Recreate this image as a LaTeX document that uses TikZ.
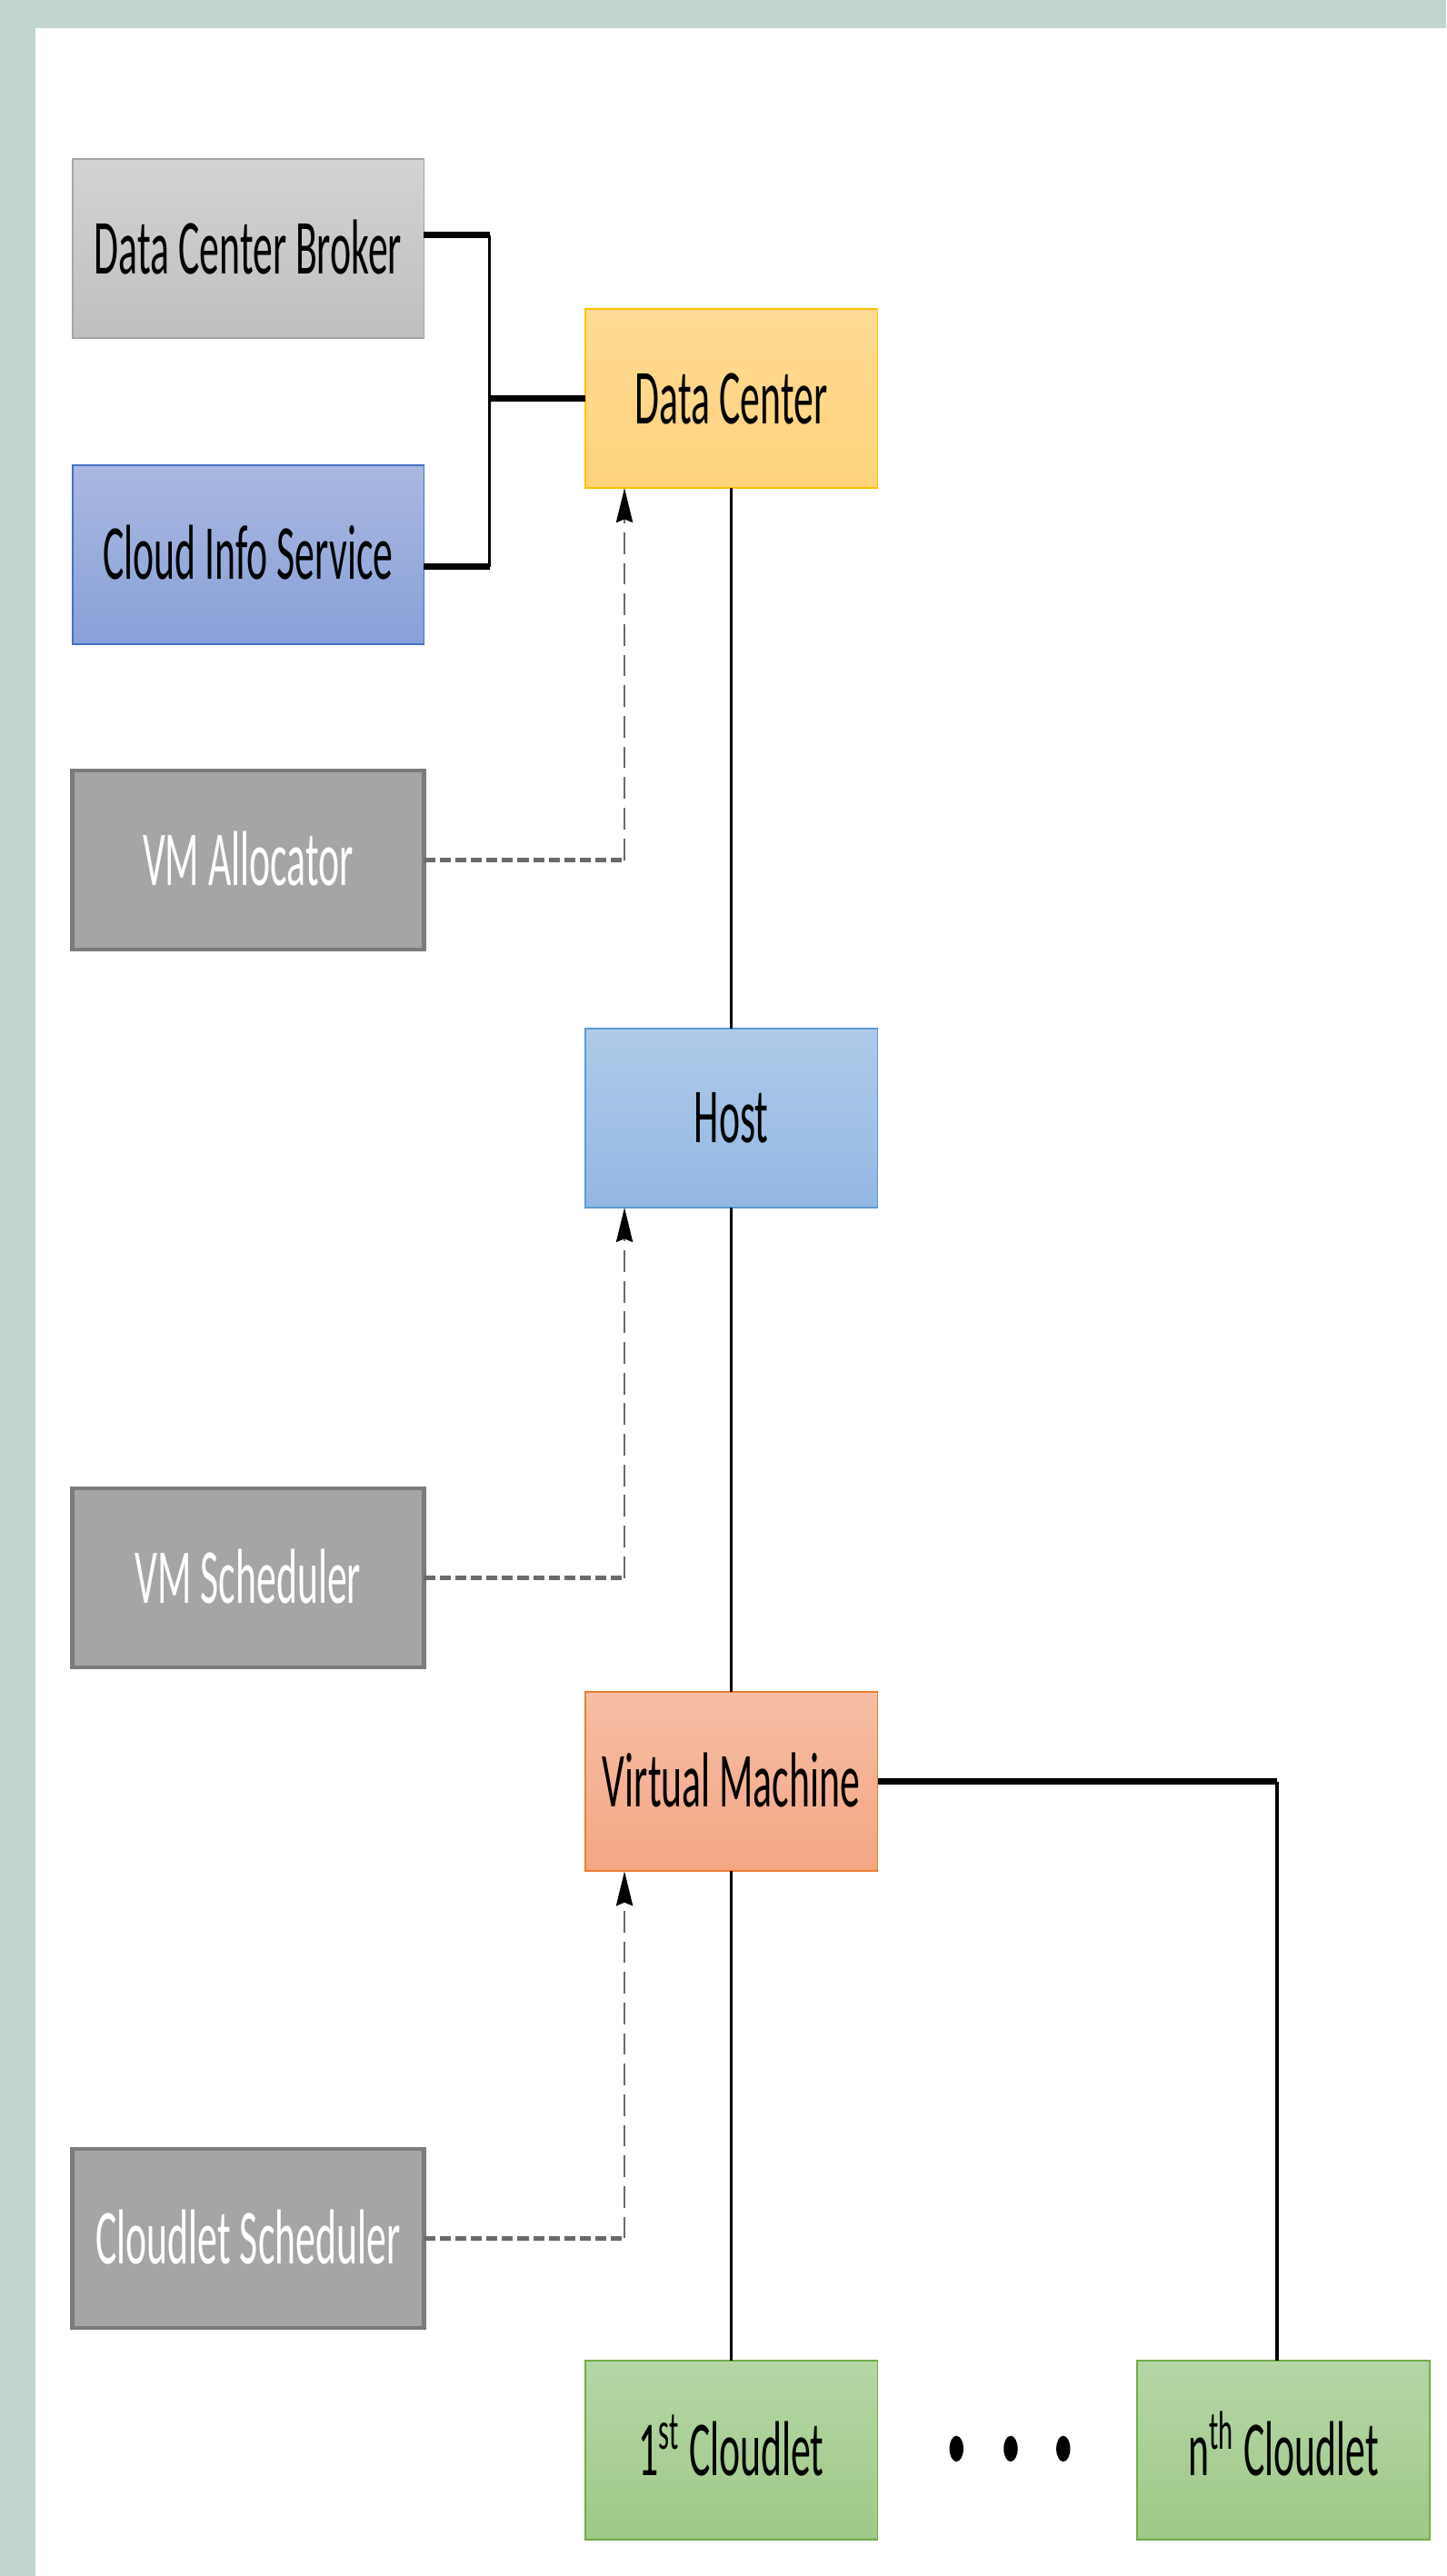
\documentclass[tikz,border=0pt]{standalone}
\usepackage{fontspec}
\setmainfont[FakeStretch=0.51]{Carlito}
\usepackage{tikz}
\usetikzlibrary{positioning, arrows.meta}

\definecolor{frameband}{HTML}{C0D6CF}
\definecolor{brokertop}{HTML}{D3D3D3}
\definecolor{brokerbot}{HTML}{BFBFBF}
\definecolor{brokerline}{HTML}{A6A6A6}
\definecolor{infotop}{HTML}{AAB8E1}
\definecolor{infobot}{HTML}{88A1D8}
\definecolor{infoline}{HTML}{4472C4}
\definecolor{toolfill}{HTML}{A5A5A5}
\definecolor{toolline}{HTML}{7B7B7B}
\definecolor{dctop}{HTML}{FFDA95}
\definecolor{dcbot}{HTML}{FFD47C}
\definecolor{dcline}{HTML}{FFC000}
\definecolor{hosttop}{HTML}{AFCAE9}
\definecolor{hostbot}{HTML}{93B7E3}
\definecolor{hostline}{HTML}{5B9BD5}
\definecolor{vmtop}{HTML}{F6BEA6}
\definecolor{vmbot}{HTML}{F4A682}
\definecolor{vmline}{HTML}{ED7D31}
\definecolor{cltop}{HTML}{B5D6A6}
\definecolor{clbot}{HTML}{9FC987}
\definecolor{clline}{HTML}{70AD47}
\definecolor{dashgrey}{HTML}{6A6A6A}

\begin{document}
\begin{tikzpicture}[
  box node/.style={rectangle, draw, minimum width=3.56cm, minimum height=2.18cm,
    inner sep=0pt, outer sep=0pt, line width=0.6pt, font=\fontsize{27}{32}\selectfont,
    text height=0.61cm, text depth=0pt},
  side node/.style={box node, minimum width=4.28cm},
  tool node/.style={side node, fill=toolfill, draw=toolline, line width=1.3pt, text=white},
  vline/.style={line width=1.05pt},
  hline/.style={line width=2.1pt},
  dash v/.style={dashgrey, line width=0.9pt, dash pattern=on 7.5pt off 3.1pt,
    -{Stealth[length=0.42cm, width=0.2cm, inset=0.04cm, black]}},
  dash h/.style={dashgrey, line width=1.7pt, dash pattern=on 3.8pt off 1.6pt}]

\useasboundingbox (0,0) rectangle (17.6,-31.36);
\fill[frameband] (0,0) rectangle (17.6,-0.34);
\fill[frameband] (0,0) rectangle (0.43,-31.36);

% left column
\node[side node, top color=brokertop, bottom color=brokerbot, draw=brokerline] (broker) at (3.02,-3.03) {Data Center Broker};
\node[side node, top color=infotop, bottom color=infobot, draw=infoline] (info) [below=1.54cm of broker] {Cloud Info Service};
\node[tool node] (alloc) [below=1.54cm of info] {VM Allocator};
\node[tool node] (vmsched) [below=6.56cm of alloc] {VM Scheduler};
\node[tool node] (clsched) [below=5.86cm of vmsched] {Cloudlet Scheduler};

% main chain
\node[box node, top color=dctop, bottom color=dcbot, draw=dcline] (dc) at (8.9,-4.85) {Data Center};
\node[box node, top color=hosttop, bottom color=hostbot, draw=hostline] (host) [below=6.58cm of dc] {Host};
\node[box node, top color=vmtop, bottom color=vmbot, draw=vmline] (vm) [below=5.9cm of host] {Virtual Machine};
\node[box node, top color=cltop, bottom color=clbot, draw=clline] (cl1) [below=5.96cm of vm] {1\textsuperscript{st} Cloudlet};
\node[box node, top color=cltop, bottom color=clbot, draw=clline] (cln) [right=3.16cm of cl1] {n\textsuperscript{th} Cloudlet};

\foreach \dx in {11.64,12.3,12.94}
  \fill (\dx,-29.81) ellipse (0.085 and 0.157);

% broker and info service
\coordinate[left=1.16cm of dc.west] (jn);
\coordinate (bk) at ([yshift=0.17cm]broker.east -| jn);
\coordinate (ci) at ([yshift=-0.15cm]info.east -| jn);
\draw[hline] ([yshift=0.17cm]broker.east) -- (bk);
\draw[hline] ([yshift=-0.15cm]info.east) -- (ci);
\draw[vline] (bk) -- (ci);
\draw[hline] (jn) -- (dc.west);

\path[vline]
(dc) edge (host)
(host) edge (vm)
(vm) edge (cl1)
;

\coordinate (vc) at ([xshift=-0.08cm]vm.east -| cln);
\draw[hline] (vm.east) -- (vc);
\draw[vline] (vc) -- (vc |- cln.north);

% schedulers
\foreach \src/\dst in {alloc/dc, vmsched/host, clsched/vm}{
  \coordinate (\dst-in) at ([xshift=0.48cm]\dst.south west);
  \coordinate (\src-c) at (\src.east -| \dst-in);
  \draw[dash h] (\src.east) -- (\src-c);
  \draw[dash v] (\src-c) -- (\dst-in);
}

\end{tikzpicture}
\end{document}
